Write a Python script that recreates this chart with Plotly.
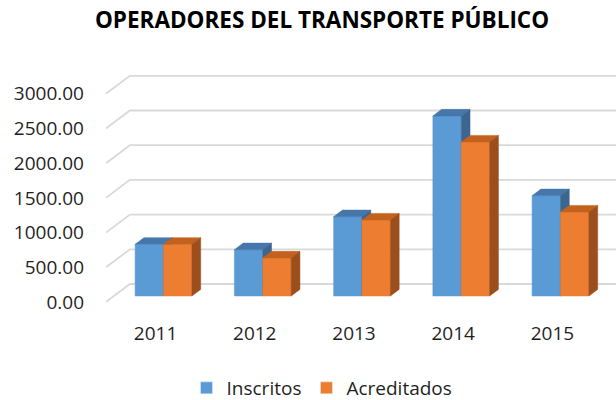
import plotly.graph_objects as go

# ---- data ----
years = ["2011", "2012", "2013", "2014", "2015"]
inscritos = [745, 667, 1143, 2594, 1445]
acreditados = [745, 548, 1095, 2219, 1210]
y_ticks = [0, 500, 1000, 1500, 2000, 2500, 3000]

# ---- styling / geometry ----
FONT = "Open Sans"
TXT = "#1F1F1F"
BLUE = ("#5B9BD5", "#4677AA", "#3C6690")     # front, top, side
ORANGE = ("#ED7D31", "#C3621F", "#9C4E1C")
GRID = "#D9D9D9"

X_RANGE = [-0.499, 4.640]
Y_RANGE = [-230.5, 3487]
WALL_DX = 0.2418   # depth offset in x units (front floor -> back wall)
WALL_DV = 259.4    # depth offset in value units
D1, D2 = 0.333, 0.70  # bar front/back depth fraction
BAR_W = 0.286

fig = go.Figure()

# gridlines: left diagonal + back wall
gx, gy = [], []
for v in y_ticks:
    gx += [-0.5, -0.5 + WALL_DX, 4.5 + WALL_DX, None]
    gy += [v, v + WALL_DV, v + WALL_DV, None]
fig.add_trace(go.Scatter(x=gx, y=gy, mode="lines", line=dict(color=GRID, width=1.8),
                         hoverinfo="skip", showlegend=False))


def faces(values, side):
    fx, fy, tx, ty, sx, sy = [], [], [], [], [], []
    b = D1 * WALL_DV
    ddx = (D2 - D1) * WALL_DX
    ddv = (D2 - D1) * WALL_DV
    for i, v in enumerate(values):
        c = i + D1 * WALL_DX
        x0, x1 = (c - BAR_W, c) if side == 0 else (c, c + BAR_W)
        fx += [x0, x1, x1, x0, x0, None]
        fy += [b, b, b + v, b + v, b, None]
        tx += [x0, x1, x1 + ddx, x0 + ddx, x0, None]
        ty += [b + v, b + v, b + v + ddv, b + v + ddv, b + v, None]
        sx += [x1, x1 + ddx, x1 + ddx, x1, x1, None]
        sy += [b, b + ddv, b + v + ddv, b + v, b, None]
    return (fx, fy), (tx, ty), (sx, sy)


for vals, cols, s in [(inscritos, BLUE, 0), (acreditados, ORANGE, 1)]:
    for (xx, yy), col in zip(faces(vals, s), cols):
        fig.add_trace(go.Scatter(x=xx, y=yy, mode="lines", fill="toself",
                                 fillcolor=col, line=dict(color=col, width=0.5),
                                 hoverinfo="skip", showlegend=False))

# legend entries
fig.add_trace(go.Bar(x=[None], y=[None], name="Inscritos", marker_color=BLUE[0]))
fig.add_trace(go.Bar(x=[None], y=[None], name="Acreditados", marker_color=ORANGE[0]))

fig.update_layout(
    width=616, height=400,
    margin=dict(l=106, r=0, t=60, b=82, autoexpand=False),
    paper_bgcolor="white", plot_bgcolor="white",
    font=dict(family=FONT, size=19, color=TXT),
    title=dict(text="<b>OPERADORES DEL TRANSPORTE PÚBLICO</b>",
               font=dict(family=FONT, size=22.5, color="#000000"),
               xref="container", yref="container", x=322 / 616, y=0.95,
               xanchor="center", yanchor="middle"),
    showlegend=True,
    legend=dict(orientation="h", xref="container", yref="container",
                x=322 / 616, y=(400 - 388) / 400, xanchor="center", yanchor="middle",
                font=dict(family=FONT, size=19, color=TXT), bgcolor="rgba(0,0,0,0)"),
    xaxis=dict(type="linear", range=X_RANGE, tickvals=list(range(len(years))), ticktext=years,
               showgrid=False, zeroline=False, showline=False, ticks="", fixedrange=True,
               automargin=False, ticklabelstandoff=2),
    yaxis=dict(range=Y_RANGE, tickvals=y_ticks, tickformat=".2f",
               showgrid=False, zeroline=False, showline=False, ticks="",
               ticklabelstandoff=21, fixedrange=True, automargin=False),
)

fig.write_html("out.html", config={"displayModeBar": False},
               post_script="document.body.style.margin='0';document.body.style.overflow='hidden';")
